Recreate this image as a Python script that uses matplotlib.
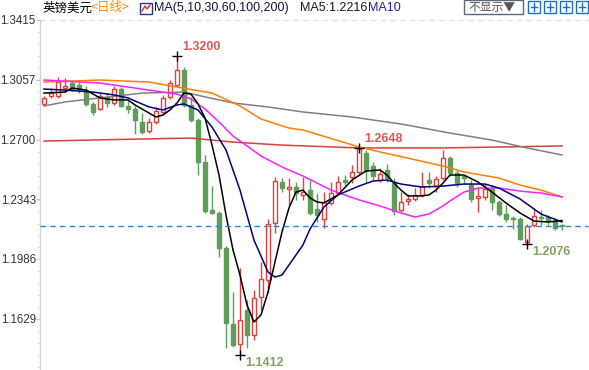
import matplotlib
matplotlib.use('Agg')
import matplotlib.pyplot as plt
from matplotlib.patches import Rectangle
from matplotlib.lines import Line2D
from matplotlib.ticker import FixedLocator

# daily GBP/USD candles
opens = [1.2913, 1.2961, 1.2961, 1.3008, 1.3038, 1.3026, 1.2996, 1.2913, 1.2883, 1.2955,
         1.2919, 1.3002, 1.2901, 1.2883, 1.2805, 1.2751, 1.2805, 1.2865, 1.2955, 1.3026,
         1.3116, 1.2907, 1.2817, 1.2566, 1.2279, 1.2261, 1.2052, 1.1597, 1.1477, 1.1681,
         1.1531, 1.1759, 1.1860, 1.2201, 1.2446, 1.2404, 1.2416, 1.2369, 1.2398, 1.2285,
         1.2225, 1.2321, 1.2380, 1.2458, 1.2476, 1.2506, 1.2620, 1.2542, 1.2458, 1.2518,
         1.2440, 1.2279, 1.2333, 1.2345, 1.2369, 1.2458, 1.2422, 1.2470, 1.2590, 1.2500,
         1.2482, 1.2428, 1.2351, 1.2357, 1.2404, 1.2327, 1.2255, 1.2231, 1.2225, 1.2087,
         1.2189, 1.2237, 1.2237, 1.2213, 1.2189]
highs = [1.2961, 1.3008, 1.3074, 1.3068, 1.3056, 1.3056, 1.3020, 1.2925, 1.2978, 1.2978,
         1.3020, 1.3014, 1.2937, 1.2901, 1.2859, 1.2829, 1.2895, 1.2967, 1.3056, 1.3200,
         1.3134, 1.2955, 1.2829, 1.2608, 1.2422, 1.2273, 1.2064, 1.1788, 1.1932, 1.1741,
         1.1800, 1.1968, 1.2225, 1.2476, 1.2470, 1.2470, 1.2446, 1.2476, 1.2458, 1.2380,
         1.2386, 1.2446, 1.2482, 1.2488, 1.2548, 1.2648, 1.2638, 1.2566, 1.2530, 1.2554,
         1.2470, 1.2386, 1.2375, 1.2410, 1.2506, 1.2506, 1.2482, 1.2640, 1.2602, 1.2518,
         1.2488, 1.2458, 1.2416, 1.2434, 1.2428, 1.2339, 1.2309, 1.2243, 1.2237, 1.2195,
         1.2291, 1.2279, 1.2249, 1.2231, 1.2195]
lows = [1.2901, 1.2949, 1.2949, 1.2984, 1.2990, 1.2978, 1.2901, 1.2847, 1.2877, 1.2895,
        1.2907, 1.2895, 1.2859, 1.2733, 1.2733, 1.2739, 1.2793, 1.2853, 1.2943, 1.3014,
        1.2895, 1.2805, 1.2488, 1.2261, 1.2255, 1.1998, 1.1454, 1.1459, 1.1412, 1.1454,
        1.1501, 1.1681, 1.1782, 1.2141, 1.2386, 1.2309, 1.2339, 1.2339, 1.2249, 1.2207,
        1.2171, 1.2309, 1.2369, 1.2428, 1.2440, 1.2494, 1.2440, 1.2458, 1.2446, 1.2446,
        1.2249, 1.2267, 1.2309, 1.2333, 1.2357, 1.2410, 1.2386, 1.2458, 1.2482, 1.2416,
        1.2434, 1.2327, 1.2267, 1.2339, 1.2279, 1.2243, 1.2207, 1.2165, 1.2099, 1.2076,
        1.2177, 1.2189, 1.2189, 1.2159, 1.2159]
closes = [1.2949, 1.2978, 1.3044, 1.3020, 1.3002, 1.3002, 1.2913, 1.2865, 1.2961, 1.2919,
          1.3002, 1.2901, 1.2883, 1.2817, 1.2745, 1.2805, 1.2871, 1.2949, 1.3038, 1.3116,
          1.2907, 1.2817, 1.2566, 1.2273, 1.2261, 1.2052, 1.1603, 1.1471, 1.1621, 1.1531,
          1.1753, 1.1866, 1.2195, 1.2452, 1.2410, 1.2416, 1.2380, 1.2386, 1.2261, 1.2249,
          1.2327, 1.2380, 1.2446, 1.2446, 1.2506, 1.2644, 1.2512, 1.2482, 1.2494, 1.2470,
          1.2273, 1.2327, 1.2345, 1.2369, 1.2422, 1.2440, 1.2464, 1.2590, 1.2500, 1.2440,
          1.2470, 1.2345, 1.2363, 1.2404, 1.2327, 1.2255, 1.2225, 1.2225, 1.2105, 1.2183,
          1.2243, 1.2231, 1.2213, 1.2171, 1.2183]

# moving averages as drawn by the terminal (candle index, value)
ma5_idx = [0, 3, 4, 6, 8, 10, 12, 13, 15, 16, 17, 18, 19, 20, 21, 22, 23, 24, 25, 26,
           27, 28, 29, 30, 31, 32, 33, 34, 35, 36, 37, 38, 39, 40, 42, 44, 46, 48, 49, 50,
           51, 52, 54, 55, 56, 57, 58, 60, 62, 64, 66, 68, 70, 72, 74]
ma5 = [1.2978, 1.2984, 1.3008, 1.2996, 1.2949, 1.2937, 1.2937, 1.2907, 1.2859, 1.2835,
       1.2847, 1.2877, 1.2919, 1.2978, 1.2972, 1.2913, 1.2829, 1.2668, 1.2488, 1.2249,
       1.2040, 1.1890, 1.1711, 1.1609, 1.1651, 1.1788, 1.1968, 1.2147, 1.2291, 1.2386,
       1.2398, 1.2351, 1.2327, 1.2321, 1.2369, 1.2458, 1.2512, 1.2518, 1.2488, 1.2440,
       1.2398, 1.2363, 1.2363, 1.2369, 1.2398, 1.2440, 1.2488, 1.2488, 1.2446, 1.2386,
       1.2321, 1.2261, 1.2213, 1.2207, 1.2216]
ma10_idx = [0, 3, 7, 10, 12, 15, 17, 19, 20, 22, 24, 26, 28, 30, 32, 33, 34, 36, 37, 38,
            40, 42, 45, 47, 49, 51, 54, 57, 60, 63, 65, 68, 71, 74]
ma10 = [1.3002, 1.2996, 1.2984, 1.2967, 1.2949, 1.2895, 1.2877, 1.2907, 1.2913, 1.2877,
        1.2775, 1.2638, 1.2398, 1.2099, 1.1908, 1.1878, 1.1890, 1.2010, 1.2070, 1.2165,
        1.2297, 1.2369, 1.2422, 1.2452, 1.2458, 1.2434, 1.2416, 1.2422, 1.2434, 1.2434,
        1.2410, 1.2345, 1.2255, 1.2207]
ma30_idx = [0, 8, 14, 19, 21, 23, 25, 27, 29, 31, 34, 37, 41, 45, 48, 51, 53, 55, 57, 58,
            60, 62, 65, 68, 71, 74]
ma30 = [1.3056, 1.3038, 1.3002, 1.2972, 1.2943, 1.2883, 1.2805, 1.2721, 1.2662, 1.2602,
        1.2536, 1.2482, 1.2398, 1.2339, 1.2303, 1.2261, 1.2237, 1.2255, 1.2303, 1.2333,
        1.2386, 1.2410, 1.2410, 1.2392, 1.2380, 1.2357]
ma60_idx = [0, 8, 15, 19, 24, 28, 31, 35, 37, 45, 48, 57, 60, 65, 68, 71, 74]
ma60 = [1.3044, 1.3056, 1.3044, 1.3014, 1.2978, 1.2901, 1.2823, 1.2769, 1.2757, 1.2656,
        1.2626, 1.2542, 1.2506, 1.2470, 1.2428, 1.2398, 1.2357]
ma100_idx = [0, 3, 8, 14, 20, 23, 27, 32, 37, 44, 51, 58, 64, 69, 74]
ma100 = [1.2901, 1.2925, 1.2949, 1.2978, 1.2984, 1.2955, 1.2919, 1.2895, 1.2865, 1.2835,
         1.2793, 1.2739, 1.2697, 1.2650, 1.2608]
ma200_idx = [0, 10, 21, 27, 34, 45, 57, 66, 74]
ma200 = [1.2691, 1.2700, 1.2709, 1.2685, 1.2667, 1.2650, 1.2650, 1.2656, 1.2662]

ytick_vals = [1.3415, 1.3057, 1.2700, 1.2343, 1.1986, 1.1629]
ytick_labels = ['1.3415', '1.3057', '1.2700', '1.2343', '1.1986', '1.1629']

# extremes marked on the chart: (candle index, 'high'/'low')
marks = [(19, 'high'), (28, 'low'), (45, 'high'), (69, 'low')]

UP = '#e2403c'
DOWN = '#5e9e5a'

W, H = 589, 370
fig = plt.figure(figsize=(W / 100, H / 100), dpi=100)
ax = fig.add_axes([40 / W, 0, 549 / W, 350 / H])
ax.set_xlim(-0.57, 77.86)
ax.set_ylim(1.1322, 1.3415)

for sp in ['top', 'right', 'bottom']:
    ax.spines[sp].set_visible(False)
ax.spines['left'].set_color('#c8d3de')
ax.spines['left'].set_linewidth(1)
ax.set_xticks([])
ax.yaxis.set_major_locator(FixedLocator(ytick_vals))
ax.set_yticklabels(ytick_labels)
minor = []
step = (ytick_vals[0] - ytick_vals[1]) / 5
v = ytick_vals[0]
while v > 1.1322:
    minor.append(v)
    v -= step
ax.yaxis.set_minor_locator(FixedLocator(minor))
ax.tick_params(axis='y', which='major', length=3, color='#b8c4d0', labelsize=8.3,
               labelcolor='#333333', pad=0)
ax.tick_params(axis='y', which='minor', length=2.5, color='#c8d3de')
for lab in ax.get_yticklabels():
    lab.set_family('Liberation Sans')

ax.axhline(ytick_vals[0], color='#e2e2e2', lw=1, ls=(0, (4, 3)), clip_on=False)

# candles
for i in range(len(opens)):
    o, h, l, c = opens[i], highs[i], lows[i], closes[i]
    up = c >= o
    col = UP if up else DOWN
    ax.vlines(i, l, h, color=col, lw=1, zorder=2)
    bot = min(o, c)
    hgt = max(abs(c - o), 0.0002)
    ax.add_patch(Rectangle((i - 0.35, bot), 0.7, hgt,
                           facecolor='white' if up else col, edgecolor=col,
                           lw=1, zorder=3))

# moving averages
ax.plot(ma200_idx, ma200, color='#d8403a', lw=1.1, zorder=4)
ax.plot(ma100_idx, ma100, color='#808080', lw=1.1, zorder=4)
ax.plot(ma60_idx, ma60, color='#ff8000', lw=1.1, zorder=4)
ax.plot(ma30_idx, ma30, color='#ff20ff', lw=1.1, zorder=4)
ax.plot(ma10_idx, ma10, color='#000080', lw=1.1, zorder=5)
ax.plot(ma5_idx, ma5, color='black', lw=1.1, zorder=5)

ax.axhline(closes[-1], color='#1e88f0', lw=1, ls=(0, (4, 3)), zorder=6)

for i, kind in marks:
    if kind == 'high':
        p = highs[i]
        ax.plot(i, p, marker='+', color='black', ms=7, mew=1, zorder=7)
        ax.annotate(f'{p:.4f}', (i, p), xytext=(5, 3), textcoords='offset pixels',
                    ha='left', va='bottom', color='#e05858', fontsize=9,
                    fontweight='bold', family='Liberation Sans', zorder=8)
    else:
        p = lows[i]
        ax.plot(i, p, marker='+', color='black', ms=7, mew=1, zorder=7,
                clip_on=False)
        ax.annotate(f'{p:.4f}', (i, p), xytext=(5, -2), textcoords='offset pixels',
                    ha='left', va='top', color='#7ea55c', fontsize=9,
                    fontweight='bold', family='Liberation Sans', zorder=8,
                    annotation_clip=False)

# header line
def fx(x):
    return x / W

def fy(y):
    return 1 - y / H

cjk = ['Noto Sans CJK SC', 'DejaVu Sans']
fig.text(fx(42), fy(8), '英镑美元', family=cjk, fontsize=9, color='black', va='center')
fig.text(fx(91), fy(8), '<日线>', family=cjk, fontsize=9, color='#ff8a00', va='center')
fig.add_artist(Rectangle((fx(140), fy(14)), 12 / W, 11 / H, transform=fig.transFigure,
                         facecolor='white', edgecolor='#30308a', lw=1))
fig.add_artist(Line2D([fx(142), fx(145), fx(147), fx(150)],
                      [fy(11), fy(6), fy(9), fy(5)], transform=fig.transFigure,
                      color='#d03030', lw=1))
fig.text(fx(154), fy(8), 'MA(5,10,30,60,100,200)', family='Liberation Sans', fontsize=9,
         color='#14143c', va='center')
fig.text(fx(300), fy(8), 'MA5:1.2216', family='Liberation Sans', fontsize=9,
         color='#1a1a1a', va='center')
fig.text(fx(368), fy(8), 'MA10', family='Liberation Sans', fontsize=9,
         color='#1f1fa0', va='center')

fig.add_artist(Rectangle((fx(464), fy(14)), 59 / W, 14 / H, transform=fig.transFigure,
                         facecolor='white', edgecolor='#5a6878', lw=1))
fig.text(fx(468), fy(7), '不显示▼', family=cjk, fontsize=8.5, color='#555555', va='center')
for k in range(4):
    x0 = 528 + k * 16
    fig.add_artist(Rectangle((fx(x0), fy(13)), 12 / W, 12 / H, transform=fig.transFigure,
                             facecolor='white', edgecolor='#1e6fd0', lw=1))
    fig.add_artist(Line2D([fx(x0 + 3), fx(x0 + 9)], [fy(7), fy(7)],
                          transform=fig.transFigure, color='#1e6fd0', lw=1))
    fig.add_artist(Line2D([fx(x0 + 6), fx(x0 + 6)], [fy(3), fy(11)],
                          transform=fig.transFigure, color='#1e6fd0', lw=1))

fig.savefig('out.png', dpi=100)
